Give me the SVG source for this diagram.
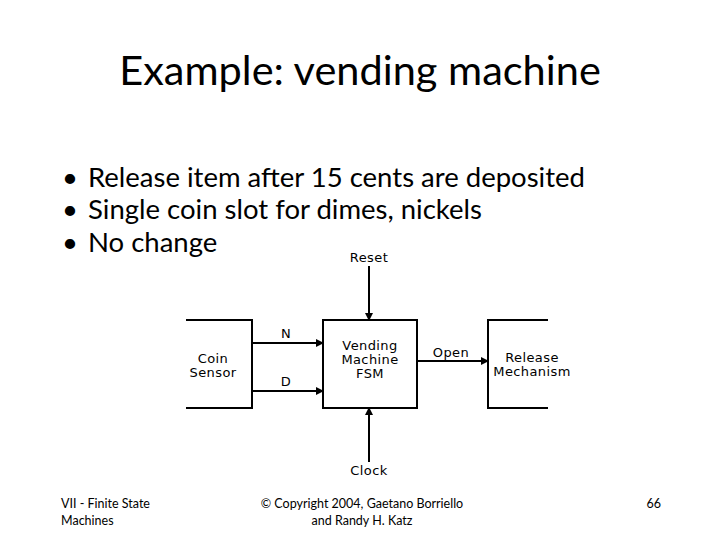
<svg xmlns="http://www.w3.org/2000/svg" width="720" height="540" viewBox="0 0 720 540">
<defs>
<marker id="ah" markerWidth="8" markerHeight="8" refX="7" refY="4" orient="auto" markerUnits="userSpaceOnUse">
<path d="M0,0 L8,4 L0,8 z" fill="#000"/>
</marker>
<style>
.t{font-family:Lato,"Open Sans","Liberation Sans",sans-serif;fill:#000}
.d{font-family:"DejaVu Sans","Liberation Sans",sans-serif;font-size:13px;letter-spacing:0.4px;fill:#000;text-anchor:middle}
.f{font-family:Lato,"Liberation Sans",sans-serif;font-size:12.5px;fill:#000}
.b{fill:none;stroke:#000;stroke-width:2}
.c{stroke:#000;stroke-width:2;fill:none}
</style>
</defs>
<rect width="720" height="540" fill="#fff"/>
<text class="t" x="360" y="85" font-size="41.5" text-anchor="middle">Example: vending machine</text>
<g class="t" font-size="27.5">
<text x="62" y="187">•</text><text x="88" y="187">Release item after 15 cents are deposited</text>
<text x="62" y="219">•</text><text x="88" y="219">Single coin slot for dimes, nickels</text>
<text x="62" y="252">•</text><text x="88" y="252">No change</text>
</g>
<g id="coin-sensor">
<path class="b" d="M186,320 H252 V408 H186"/>
<text class="d" x="213" y="363">Coin</text>
<text class="d" x="213" y="377">Sensor</text>
</g>
<g id="fsm">
<rect class="b" x="323" y="320" width="94" height="88"/>
<text class="d" x="370" y="350">Vending</text>
<text class="d" x="370" y="364">Machine</text>
<text class="d" x="370" y="378">FSM</text>
</g>
<g id="release">
<path class="b" d="M548,320 H488 V408 H548"/>
<text class="d" x="532" y="362">Release</text>
<text class="d" x="532" y="376">Mechanism</text>
</g>
<g id="connectors">
<line class="c" x1="252" y1="343" x2="323" y2="343" marker-end="url(#ah)"/>
<line class="c" x1="252" y1="391" x2="323" y2="391" marker-end="url(#ah)"/>
<line class="c" x1="417" y1="361" x2="488" y2="361" marker-end="url(#ah)"/>
<line class="c" x1="369" y1="266" x2="369" y2="320" marker-end="url(#ah)"/>
<line class="c" x1="369" y1="462" x2="369" y2="408" marker-end="url(#ah)"/>
<text class="d" x="286" y="338">N</text>
<text class="d" x="286" y="386">D</text>
<text class="d" x="451" y="357">Open</text>
<text class="d" x="369" y="262">Reset</text>
<text class="d" x="369" y="475">Clock</text>
</g>
<g class="f">
<text x="61" y="508">VII - Finite State</text>
<text x="61" y="525">Machines</text>
<text x="362" y="508" text-anchor="middle">© Copyright 2004, Gaetano Borriello</text>
<text x="362" y="525" text-anchor="middle">and Randy H. Katz</text>
<text x="661" y="508" text-anchor="end">66</text>
</g>
</svg>
